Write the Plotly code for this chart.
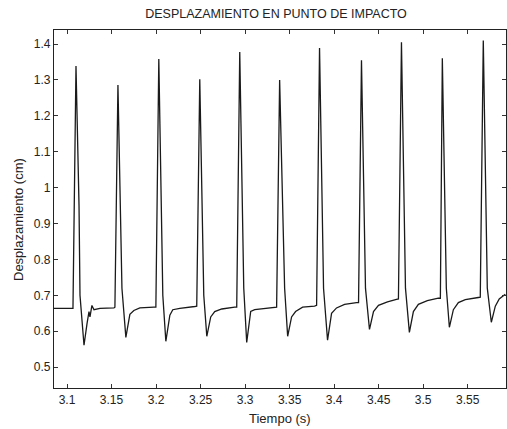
import plotly.graph_objects as go

# Time (s) and displacement (cm) points
tiempo = [
    3.0854, 3.1067, 3.1101, 3.1135, 3.1146, 3.1191, 3.1224, 3.1247, 3.1258, 3.1280, 3.1303, 3.1370, 3.1527,
    3.1538, 3.1572, 3.1605, 3.1617, 3.1661, 3.1706, 3.1751, 3.1818, 3.1975,
    3.1998, 3.2031, 3.2065, 3.2076, 3.2110, 3.2155, 3.2188, 3.2267, 3.2435,
    3.2457, 3.2491, 3.2525, 3.2536, 3.2570, 3.2614, 3.2659, 3.2738, 3.2883,
    3.2906, 3.2940, 3.2973, 3.2985, 3.3018, 3.3063, 3.3108, 3.3220, 3.3332,
    3.3354, 3.3388, 3.3422, 3.3444, 3.3478, 3.3522, 3.3567, 3.3646, 3.3780,
    3.3803, 3.3836, 3.3870, 3.3881, 3.3926, 3.3971, 3.4027, 3.4117, 3.4251,
    3.4274, 3.4307, 3.4341, 3.4352, 3.4397, 3.4442, 3.4498, 3.4599, 3.4700,
    3.4722, 3.4756, 3.4789, 3.4801, 3.4845, 3.4890, 3.4946, 3.5047, 3.5170,
    3.5193, 3.5215, 3.5249, 3.5260, 3.5294, 3.5339, 3.5395, 3.5473, 3.5619,
    3.5641, 3.5675, 3.5709, 3.5720, 3.5765, 3.5810, 3.5854, 3.5922,
]
desplazamiento = [
    0.664, 0.664, 1.339, 0.95, 0.70, 0.561, 0.62, 0.655, 0.640, 0.672, 0.660, 0.664, 0.665,
    0.667, 1.286, 0.90, 0.72, 0.583, 0.647, 0.658, 0.665, 0.667,
    0.667, 1.358, 0.90, 0.70, 0.572, 0.645, 0.660, 0.664, 0.669,
    0.670, 1.302, 0.90, 0.70, 0.586, 0.640, 0.655, 0.662, 0.667,
    0.667, 1.378, 0.90, 0.72, 0.569, 0.655, 0.660, 0.663, 0.667,
    0.667, 1.300, 0.90, 0.72, 0.586, 0.640, 0.655, 0.667, 0.670,
    0.672, 1.389, 0.90, 0.72, 0.575, 0.650, 0.665, 0.675, 0.680,
    0.680, 1.355, 0.90, 0.72, 0.605, 0.655, 0.672, 0.682, 0.689,
    0.690, 1.405, 0.90, 0.72, 0.597, 0.655, 0.675, 0.685, 0.692,
    0.692, 1.360, 0.90, 0.72, 0.611, 0.660, 0.680, 0.688, 0.694,
    0.695, 1.410, 0.90, 0.72, 0.625, 0.670, 0.690, 0.703,
]

x_ticks = [3.1, 3.15, 3.2, 3.25, 3.3, 3.35, 3.4, 3.45, 3.5, 3.55]
x_labels = ["3.1", "3.15", "3.2", "3.25", "3.3", "3.35", "3.4", "3.45", "3.5", "3.55"]
y_ticks = [0.5, 0.6, 0.7, 0.8, 0.9, 1.0, 1.1, 1.2, 1.3, 1.4]
y_labels = ["0.5", "0.6", "0.7", "0.8", "0.9", "1", "1.1", "1.2", "1.3", "1.4"]

W, H = 507, 429

fig = go.Figure(go.Scatter(
    x=tiempo, y=desplazamiento, mode="lines",
    line=dict(color="#1a1a1a", width=1.3), showlegend=False,
))

font = dict(family="Liberation Sans, Arial, sans-serif", size=12, color="#222222")

fig.update_layout(
    width=W, height=H, autosize=False,
    margin=dict(l=54, r=1, t=30, b=41, autoexpand=False),
    paper_bgcolor="white", plot_bgcolor="white",
    font=font,
    title=dict(text="DESPLAZAMIENTO EN PUNTO DE IMPACTO", x=276 / W, xanchor="center",
               y=1 - 14 / H, yanchor="middle", font=dict(size=12.5, color="#222222")),
    xaxis=dict(range=[3.0854, 3.593], tickvals=x_ticks, ticktext=x_labels,
               ticks="inside", ticklen=4, tickcolor="#333333", automargin=False,
               showline=True, linecolor="#222222", linewidth=1.2, mirror="ticks",
               showgrid=False, zeroline=False),
    yaxis=dict(range=[0.442, 1.439], tickvals=y_ticks, ticktext=y_labels,
               ticks="inside", ticklen=4, tickcolor="#333333", automargin=False,
               showline=True, linecolor="#222222", linewidth=1.2, mirror="ticks",
               showgrid=False, zeroline=False),
    annotations=[
        dict(text="Tiempo (s)", xref="paper", yref="paper",
             x=(280 - 54) / (W - 55), y=-(418 - 388) / (H - 71),
             xanchor="center", yanchor="middle", showarrow=False,
             font=dict(size=13, color="#222222")),
        dict(text="Desplazamiento (cm)", xref="paper", yref="paper",
             x=-(54 - 18) / (W - 55), y=(388 - 220) / (H - 71),
             xanchor="center", yanchor="middle", showarrow=False, textangle=-90,
             font=dict(size=13, color="#222222")),
    ],
)

fig.write_html(
    "out.html",
    config={"displayModeBar": False},
    post_script="document.body.style.margin='0';document.body.style.overflow='hidden';",
)
